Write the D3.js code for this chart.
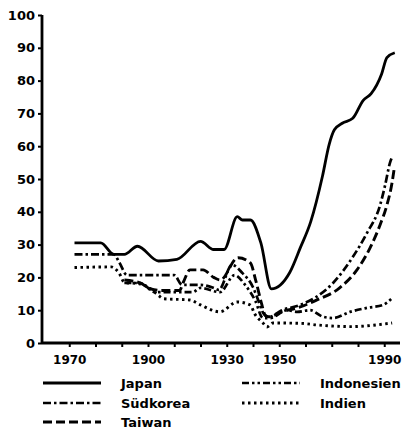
<!DOCTYPE html>
<meta charset="utf-8">
<style>
body { margin: 0; background: #fff; }
text { font-family: "DejaVu Sans", sans-serif; font-weight: bold; fill: #000; }
.line { fill: none; stroke: #000; stroke-linejoin: round; }
</style>
<body>
<svg width="403" height="435"></svg>
<script src="https://d3js.org/d3.v7.min.js"></script>
<script>

// values: [year, percent]
var japan = [[1872,30.5],[1882,30.5],[1887,27],[1891,27],[1896,29.5],[1904,25],[1911,25.5],
  [1920,31],[1925,28.5],[1929,28.5],[1934,38.5],[1936,37.5],[1939,37.5],[1943,30.5],[1947,16.5],
  [1954,21.5],[1958,29],[1962,37],[1966.5,51],[1969,60.5],[1971,65],[1974,67],[1978,68.5],
  [1982,74],[1985,76],[1989,82],[1991,87],[1994,88.5]];

var suedkorea = [[1872,27],[1887,27],[1889,24.7],[1892,20.7],[1898,20.7],[1910,20.7],[1913,17.7],
  [1920,17.7],[1925,16.8],[1927,16.2],[1932,23.8],[1936,21.3],[1940,17],[1942,13],[1944,9],
  [1946,7.9],[1951,10],[1958,11.6],[1964,14],[1970.5,18.3],[1978,26.2],[1983.4,33.5],
  [1988.4,42],[1990.3,48],[1992.2,55],[1993,56.7]];

var taiwan = [[1891,19.2],[1897,18.3],[1901,16.5],[1905,16],[1912,16],[1913.5,18.6],[1916,22.3],
  [1921,22.3],[1925,20],[1927.5,19.2],[1934.3,26],[1939,24.4],[1941,19.2],[1943.4,11.6],
  [1944.6,8.5],[1946,8],[1951,9.5],[1958,11],[1964,13],[1973,16.8],[1979.6,22.3],
  [1984.6,29],[1988.4,36],[1991,42],[1993,49],[1993.7,52.7]];

var indonesien = [[1891,18.3],[1897,18.3],[1902.7,15.5],[1917,15.5],[1920,16.8],[1927.4,15.5],
  [1933,20.7],[1937,17.7],[1940.8,13],[1943.8,7.6],[1946.5,7.6],[1953,10],[1956.8,9.5],
  [1961.7,10],[1966.7,8],[1970.5,7.6],[1977,9.5],[1983.4,10.7],[1989.5,11.6],[1993,13.7]];

var indien = [[1872,23],[1886,23.2],[1889,21.3],[1891,18.5],[1897,18],[1901,16.5],[1904,14.5],
  [1906,13.5],[1916,13.1],[1920,11.6],[1927.4,9.5],[1934,12.5],[1939,11.6],[1940.5,9.1],
  [1943.8,6.1],[1945.3,4.9],[1947.6,6.1],[1958,6],[1964.4,5.5],[1977,5],[1993,6.1]];

var yTicks = [0,10,20,30,40,50,60,70,80,90,100];
var xTickYears = [1870,1880,1890,1900,1910,1920,1930,1940,1950,1960,1970,1980,1990];
var xLabelYears = [1870,1900,1930,1950,1990];
var xLabels = ["1970","1900","1930","1950","1990"];

var seriesNames = ["Japan","Südkorea","Taiwan","Indonesien","Indien"];
var seriesData = [japan, suedkorea, taiwan, indonesien, indien];

// line styles per series
var dashes = ["none", "8,3,2.5,3", "9,4", "7,3,2.5,3,2.5,3", "2.5,3.5"];
var widths = [2.8, 2.7, 2.9, 2.7, 2.9];

var svg = d3.select("svg");

var x = d3.scaleLinear().domain([1860, 1996]).range([43, 400]);
var y = d3.scaleLinear().domain([0, 100]).range([343, 15]);

var line = d3.line()
  .x(function(d){ return x(d[0]); })
  .y(function(d){ return y(d[1]); })
  .curve(d3.curveMonotoneX);

svg.selectAll(".line")
  .data(seriesData)
  .enter().append("path")
  .attr("class", "line")
  .attr("d", line)
  .style("stroke-width", function(d,i){ return widths[i]; })
  .style("stroke-dasharray", function(d,i){ return dashes[i]; });

// y axis
var yAxis = svg.append("g")
  .attr("transform", "translate(" + 42 + ",0)")
  .call(d3.axisLeft(y).tickValues(yTicks).tickSize(4).tickPadding(3));

// x axis
var xAxis = svg.append("g")
  .attr("transform", "translate(0," + 343 + ")")
  .call(d3.axisBottom(x).tickValues(xTickYears).tickSize(4)
    .tickFormat(function(d){ var k = xLabelYears.indexOf(d); return k < 0 ? "" : xLabels[k]; }));

[yAxis, xAxis].forEach(function(a){
  a.select(".domain").attr("stroke-width", 2.8);
  a.selectAll(".tick line").attr("stroke-width", 2);
});
xAxis.select(".domain").attr("d", "M42,0H400");
yAxis.select(".domain").attr("d", "M0,15V344");
yAxis.selectAll("text").style("font-size", "13px").attr("dx", "0");
xAxis.selectAll("text").style("font-size", "12px").attr("dy", "1.2em");

// legend
var legendPos = [[43,383],[43,403],[43,422],[242,383],[242,403]];
var legend = svg.selectAll(".legend")
  .data(seriesNames)
  .enter().append("g")
  .attr("class", "legend")
  .attr("transform", function(d,i){ return "translate(" + legendPos[i][0] + "," + legendPos[i][1] + ")"; });

legend.append("line")
  .attr("class", "line")
  .attr("x1", 0).attr("x2", 58)
  .style("stroke-width", function(d,i){ return widths[i]; })
  .style("stroke-dasharray", function(d,i){ return dashes[i]; });

legend.append("text")
  .attr("x", 78)
  .attr("dy", "0.35em")
  .style("font-size", "13px")
  .text(function(d){ return d; });

</script>
</body>
</html>
